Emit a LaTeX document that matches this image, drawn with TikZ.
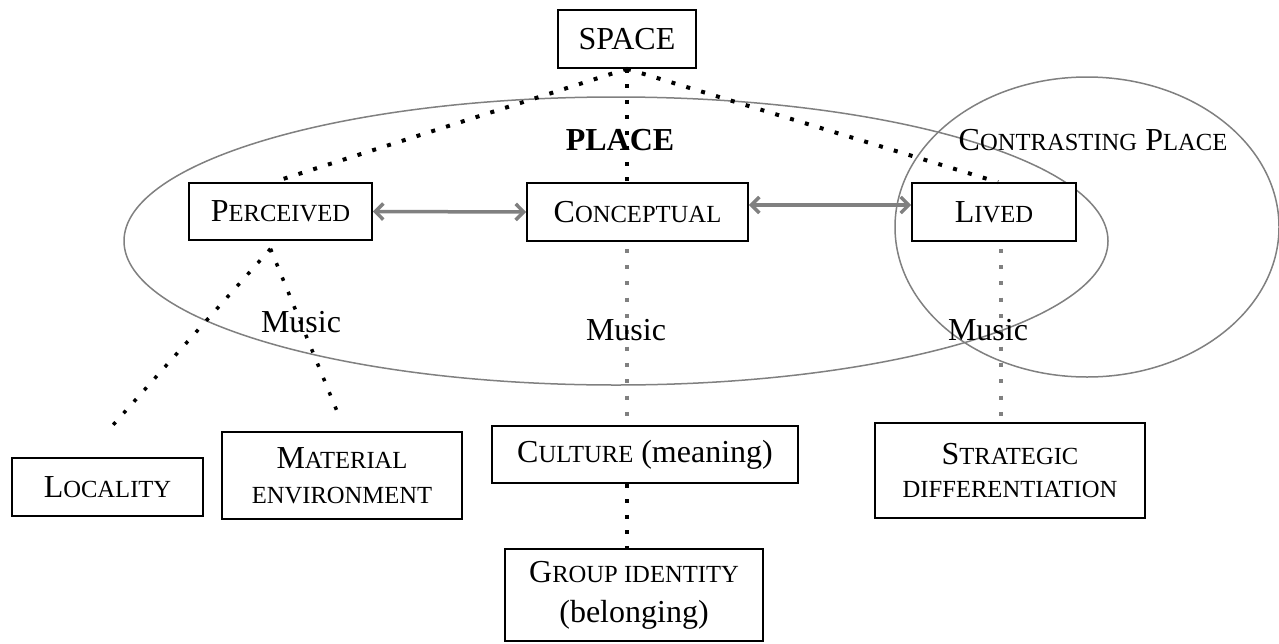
\documentclass[tikz,border=0pt]{standalone}
\usepackage{fontspec}
\setmainfont{Liberation Serif}
\usetikzlibrary{arrows.meta,calc}
\definecolor{linegray}{RGB}{128,128,128}
% reduced capitals for the small-caps parts of the labels
\newcommand{\sk}[1]{{\fontsize{24.6pt}{30pt}\selectfont #1}}

\begin{document}
\begin{tikzpicture}[x=1pt,y=-1pt,
  every node/.style={font=\fontsize{32pt}{33pt}\selectfont, inner sep=0pt},
  box/.style={draw=black, line width=1.6pt, align=center, fill=white},
  ring/.style={draw=linegray, line width=1.5pt},
  link/.style={draw=linegray, line width=3.5pt,
    {Straight Barb[length=8pt,width=16pt]}-{Straight Barb[length=8pt,width=16pt]}},
  blackdots/.style={draw=black, line width=4pt, dash pattern=on 4pt off 11.5pt},
  finedots/.style={draw=black, line width=3.5pt, dash pattern=on 3.5pt off 12pt},
  graydots/.style={draw=linegray, line width=4pt, dash pattern=on 4pt off 12.3pt},
  label/.style={anchor=base}
]
\useasboundingbox (0,0) rectangle (1279,643);
\fill[white] (0,0) rectangle (1279,643);

% the two places
\draw[ring] (616,241) ellipse [x radius=492, y radius=144];
\draw[ring] (1087,227) ellipse [x radius=192, y radius=150];

% boxes
\node[box, minimum width=138pt, minimum height=58pt] (space) at (627,39) {SPACE};
\node[box, minimum width=183pt, minimum height=57pt] (perc) at (280.5,211.5) {P\sk{ERCEIVED}};
\node[box, minimum width=221pt, minimum height=58pt] (conc) at (637.5,212) {C\sk{ONCEPTUAL}};
\node[box, minimum width=164pt, minimum height=58pt] (lived) at (994,212) {L\sk{IVED}};
\node[box, minimum width=191pt, minimum height=58pt] (loc) at (107.5,487) {L\sk{OCALITY}};
\node[box, minimum width=240pt, minimum height=87pt, font=\fontsize{32pt}{35pt}\selectfont] (mat) at (342,475.5) {M\sk{ATERIAL}\\\sk{ENVIRONMENT}};
\node[box, minimum width=306pt, minimum height=57pt] (cult) at (645,454.5) {C\sk{ULTURE} (meaning)};
\node[box, minimum width=258pt, minimum height=92pt, font=\fontsize{32pt}{40pt}\selectfont] (group) at (634,595) {G\sk{ROUP IDENTITY}\\(belonging)};
\node[box, minimum width=270pt, minimum height=95pt] (strat) at (1010,470.5) {S\sk{TRATEGIC}\\\sk{DIFFERENTIATION}};

% labels
\node[label, font=\fontsize{32pt}{33pt}\selectfont\bfseries] (place) at (620,150) {PLACE};
\node[label] (cplace) at (1093,150) {C\sk{ONTRASTING} P\sk{LACE}};

% links between the three kinds of place
\draw[link] (perc.east) -- (conc.west);
\draw[link] ([yshift=7pt]conc.east) -- ([yshift=7pt]lived.west);

% space to the three places
\draw[blackdots] (space.south) -- ([xshift=-7.5pt]perc.north);
\draw[blackdots] (space.south) -- (space.south |- conc.north);
\draw[blackdots] (space.south) -- ([xshift=4pt]lived.north);

% perceived place downwards
\coordinate (pb) at ($(perc.south)+(-10,8)$);
\coordinate (locend) at ($(loc.north)+(0,-26)$);
\coordinate (matend) at ($(mat.north)+(-5,-20)$);
\draw[finedots] (pb) -- (locend);
\draw[finedots] (pb) -- (matend);

% conceptual place downwards
\coordinate (cb) at ($(space.south |- conc.south)+(0,7)$);
\draw[graydots] (cb) -- (cb |- cult.north);
\draw[blackdots] (cb |- cult.south) -- (cb |- group.north);

% lived place downwards
\coordinate (lb) at ($(lived.south)+(7,7)$);
\draw[graydots] (lb) -- (lb |- strat.north);

% music labels
\node[label] (m1) at (301,332) {Music};
\node[label] (m2) at (626,340) {Music};
\node[label] (m3) at (988,340) {Music};
\end{tikzpicture}
\end{document}
